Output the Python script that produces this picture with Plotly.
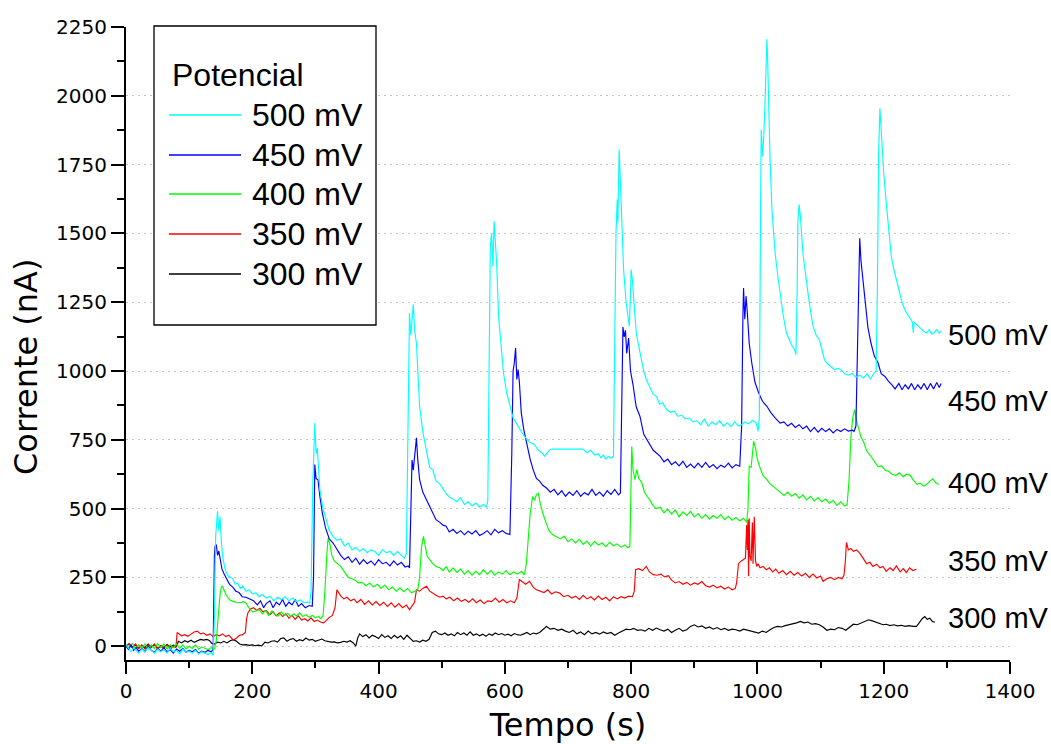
import plotly.graph_objects as go

# ---------------- data ----------------
potenciais = ["500 mV", "450 mV", "400 mV", "350 mV", "300 mV"]
cores = ["#00FFFF", "#0000FF", "#00FF00", "#FF0000", "#000000"]

serie_500 = [(0,5),(4,-10),(8,-20),(12,-5),(16,-15),(20,-25),(25,-10),(30,-20),(35,-5),(40,-15),(45,-25),(50,-10),(55,-20),(60,-12),(65,-25),(70,-8),(75,-20),(80,-15),(85,-28),(90,-10),(95,-22),(100,-18),(105,-25),(110,-15),(115,-28),(120,-20),(125,-25),(130,-30),(135,-22),(138,-33),
(140,100),(142,400),(144,460),(145,490),(147,420),(149,470),(151,380),(153,327),(156,290),(158,272),(162,255),(166,250),(169,245),(173,225),(177,230),(181,210),(185,218),(190,200),(195,205),(200,190),(206,194),(211,180),(216,188),(222,175),(228,182),(234,165),(240,178),(246,170),(252,180),(258,165),(264,175),(270,162),(276,168),(282,158),(288,160),(291,157),(293,200),(296,600),(299,811),(301,700),(303,720),(307,569),(312,500),(317,460),(322,420),(328,399),(334,385),(340,390),(346,365),(352,375),(358,350),(364,360),(370,345),(376,355),(382,340),(388,350),(394,345),(400,330),(406,350),(412,340),(418,345),(424,330),(430,345),(436,330),(441,320),(444,335),
(447,800),(449,1211),(451,1130),(453,1200),(455,1242),(457,1150),(460,1100),(463,960),(465,872),(470,780),(476,703),(481,650),(486,640),(491,600),(497,590),(502,570),(507,555),(513,540),(518,535),(524,525),(530,540),(536,515),(542,525),(548,510),(554,520),(560,505),(566,515),(571,505),(573,530),
(575,1000),(577,1453),(579,1500),(581,1381),(583,1544),(585,1484),(587,1393),(590,1200),(594,1080),(598,990),(603,920),(608,870),(613,830),(618,811),(624,790),(630,765),(636,750),(640,740),(646,735),(652,715),(658,705),(663,690),(668,705),(672,715),(676,716),(724,716),(730,703),(736,712),(742,695),(748,700),(752,685),(756,695),(760,680),(764,690),(768,683),(772,690),
(774,1100),(776,1502),(778,1623),(779,1540),(781,1805),(783,1647),(786,1500),(788,1370),(792,1250),(795,1199),(797,1163),(799,1280),(800,1369),(802,1330),(805,1220),(808,1140),(811,1102),(816,1040),(820,1000),(824,969),(830,940),(835,915),(840,908),(845,880),(850,885),(856,860),(862,850),(868,855),(874,835),(880,840),(886,825),(892,830),(898,815),(904,820),(910,805),(916,825),(922,800),(928,815),(934,805),(940,820),(946,800),(952,812),(958,798),(964,815),(970,800),(975,805),(980,815),(986,808),(992,820),(998,812),(1001,781),(1003,830),
(1005,1600),(1006,1877),(1008,1780),(1010,1850),(1012,1974),(1014,2100),(1015,2205),(1016,2150),(1018,1900),(1020,1768),(1023,1587),(1028,1429),(1032,1350),(1036,1284),(1041,1200),(1046,1138),(1051,1110),(1055,1090),(1059,1078),(1061,1060),
(1063,1300),(1064,1540),(1066,1605),(1068,1563),(1072,1429),(1076,1350),(1080,1284),(1084,1220),(1088,1163),(1093,1130),(1098,1114),(1102,1080),(1106,1042),(1110,1029),(1116,1016),(1122,1005),(1128,1010),(1133,1003),(1138,990),(1144,985),(1150,992),(1156,977),(1162,985),(1168,975),(1174,990),(1179,970),(1184,990),(1188,1000),
(1190,1300),(1192,1800),(1194,1955),(1196,1870),(1200,1720),(1204,1611),(1208,1500),(1212,1417),(1216,1370),(1221,1327),(1225,1290),(1229,1249),(1235,1215),(1240,1197),(1245,1180),(1247,1139),(1248,1178),(1251,1171),(1256,1160),(1263,1145),(1268,1138),(1272,1150),(1276,1135),(1280,1140),(1284,1150),(1288,1138),(1291,1145)]

serie_450 = [(0,0),(4,-12),(8,5),(12,-15),(16,-5),(20,-18),(25,-8),(30,-20),(35,0),(40,-15),(45,-22),(50,-8),(55,-18),(60,-5),(65,-20),(70,-12),(75,-25),(80,-10),(85,-18),(90,-8),(95,-22),(100,-15),(105,-20),(110,-12),(115,-25),(120,-18),(125,-22),(130,-15),(135,-20),(138,-12),
(140,330),(141,363),(143,369),(145,330),(147,346),(149,320),(152,280),(156,260),(160,240),(164,225),(169,215),(174,200),(179,195),(184,180),(190,178),(196,170),(202,165),(208,150),(213,165),(218,140),(222,155),(228,165),(233,140),(238,160),(243,150),(248,170),(253,145),(258,160),(263,150),(268,170),(273,145),(278,155),(284,140),(290,148),(295,145),
(297,250),(299,660),(301,610),(304,605),(307,545),(311,484),(316,430),(322,390),(328,375),(334,350),(340,330),(346,315),(352,325),(358,305),(364,320),(370,298),(376,315),(382,300),(388,310),(394,295),(400,315),(406,300),(412,305),(418,292),(424,310),(430,295),(436,305),(442,288),(447,292),(449,284),
(451,500),(453,677),(455,640),(457,700),(460,757),(462,680),(465,605),(470,560),(476,530),(481,508),(486,480),(491,460),(497,450),(502,440),(507,436),(512,415),(518,425),(524,410),(530,420),(536,405),(542,418),(548,408),(554,420),(560,402),(566,410),(572,420),(578,405),(584,425),(590,412),(596,420),(602,410),(608,406),
(611,700),(613,1000),(615,1029),(617,1084),(619,969),(621,1005),(623,960),(626,848),(630,787),(635,730),(640,680),(645,640),(650,610),(655,600),(660,585),(666,575),(672,560),(678,570),(684,550),(690,565),(696,545),(702,560),(708,548),(714,565),(720,545),(726,558),(732,550),(738,570),(744,548),(750,560),(756,545),(762,565),(768,552),(774,570),(780,550),(783,557),
(785,800),(787,1160),(789,1124),(791,1148),(793,1064),(796,1120),(799,1000),(803,950),(808,870),(814,835),(820,770),(825,750),(830,730),(835,712),(840,702),(846,690),(852,670),(858,680),(864,660),(870,670),(876,655),(882,672),(888,650),(894,662),(900,648),(906,665),(912,650),(918,668),(924,650),(930,660),(936,645),(942,658),(948,650),(954,665),(960,648),(966,660),(972,654),
(975,800),(977,1200),(978,1302),(980,1188),(982,1272),(984,1212),(987,1100),(991,1030),(996,960),(1002,920),(1008,890),(1015,872),(1021,850),(1028,830),(1036,811),(1042,815),(1048,800),(1054,810),(1060,795),(1066,805),(1072,790),(1078,800),(1084,780),(1090,795),(1096,778),(1102,792),(1108,780),(1114,790),(1120,775),(1126,788),(1132,780),(1138,790),(1144,782),(1150,785),(1153,781),
(1156,800),(1158,1042),(1160,1250),(1162,1482),(1164,1400),(1166,1353),(1170,1250),(1175,1158),(1180,1100),(1185,1055),(1191,1030),(1196,990),(1202,980),(1207,964),(1213,950),(1218,935),(1224,955),(1229,932),(1234,950),(1239,935),(1244,955),(1249,932),(1254,950),(1259,935),(1264,955),(1269,932),(1274,955),(1279,935),(1284,958),(1288,940),(1291,955)]

serie_400 = [(0,5),(5,-5),(10,10),(15,-8),(20,5),(25,-5),(30,8),(35,-10),(40,5),(45,-8),(50,10),(55,-5),(60,8),(65,-10),(70,5),(75,-5),(80,8),(85,-8),(90,5),(95,-10),(100,0),(105,-8),(110,5),(115,-10),(120,-3),(125,-8),(130,-12),(135,-5),(140,-10),(143,20),
(146,120),(149,190),(151,215),(153,218),(156,200),(159,185),(164,169),(169,163),(175,160),(181,158),(186,162),(190,157),(196,135),(201,125),(206,128),(211,133),(216,118),(221,130),(226,112),(231,128),(236,115),(241,110),(246,125),(251,112),(256,120),(261,108),(266,118),(270,110),(275,121),(280,108),(285,115),(290,105),(295,112),(300,103),(305,108),(308,100),(312,110),
(315,200),(318,330),(320,393),(323,370),(326,330),(330,310),(335,300),(340,290),(346,270),(352,250),(358,245),(363,240),(368,230),(374,232),(380,220),(386,230),(392,215),(398,225),(404,210),(410,222),(416,205),(422,215),(428,200),(434,212),(440,198),(446,210),(452,194),(458,200),(462,205),
(465,250),(468,360),(471,399),(474,360),(477,327),(481,315),(486,300),(491,290),(497,285),(502,275),(507,290),(512,270),(518,285),(524,268),(530,280),(536,262),(542,275),(548,258),(554,272),(560,260),(566,278),(572,262),(578,275),(584,258),(590,270),(596,262),(602,275),(608,260),(614,270),(620,262),(626,272),(631,260),
(634,300),(637,388),(640,480),(644,544),(647,530),(650,551),(653,556),(656,520),(660,484),(665,450),(670,420),(676,405),(682,398),(688,390),(694,400),(700,380),(706,390),(712,375),(718,388),(724,370),(730,382),(736,365),(742,380),(748,368),(754,375),(760,362),(766,378),(772,365),(778,372),(784,360),(790,368),(795,358),(798,363),
(800,600),(801,726),(803,640),(806,605),(809,642),(812,610),(817,594),(821,560),(825,545),(830,530),(835,510),(840,500),(846,505),(852,485),(858,498),(864,480),(870,495),(876,470),(882,488),(888,475),(894,490),(900,470),(906,482),(912,465),(918,478),(924,462),(930,475),(936,465),(942,478),(948,460),(954,472),(960,458),(966,468),(972,455),(978,465),(983,450),
(985,500),(987,654),(990,650),(992,700),(994,745),(997,720),(1000,678),(1004,650),(1009,620),(1015,605),(1020,590),(1025,581),(1030,570),(1036,560),(1042,548),(1048,560),(1054,545),(1060,555),(1066,538),(1072,550),(1078,532),(1084,545),(1090,528),(1096,540),(1102,525),(1108,535),(1114,520),(1120,530),(1126,512),(1132,525),(1138,510),(1142,514),
(1145,600),(1148,757),(1151,830),(1154,860),(1157,820),(1160,796),(1164,760),(1168,744),(1173,710),(1179,692),(1185,672),(1191,653),(1197,655),(1202,640),(1208,635),(1213,625),(1219,621),(1225,630),(1231,615),(1236,625),(1242,621),(1248,600),(1253,588),(1258,592),(1263,582),(1268,588),(1273,600),(1278,608),(1282,595),(1287,588)]

serie_350 = [(0,0),(5,10),(10,-5),(15,8),(20,-8),(25,5),(30,-10),(35,5),(40,-5),(45,8),(50,-10),(55,0),(60,-8),(65,5),(70,-12),(75,0),(79,-5),
(81,50),(84,45),(88,38),(93,42),(98,36),(103,44),(108,52),(113,55),(118,45),(123,48),(128,40),(133,45),(138,35),(143,42),(148,38),(153,45),(158,35),(163,40),(167,28),(170,22),(175,30),(180,40),(185,42),(189,50),
(191,100),(193,121),(197,135),(202,140),(207,130),(212,138),(217,125),(222,130),(228,115),(233,125),(238,110),(243,121),(248,108),(253,118),(258,102),(263,112),(268,98),(273,110),(278,95),(283,100),(288,92),(293,103),(298,90),(303,95),(308,88),(313,85),(317,93),(322,105),(327,112),
(331,140),(334,205),(337,195),(341,180),(345,172),(350,178),(356,165),(361,172),(366,158),(372,170),(378,152),(384,165),(390,150),(396,162),(402,148),(408,160),(414,145),(420,158),(426,142),(432,155),(438,140),(444,150),(449,133),(453,145),(457,160),
(460,205),(465,200),(470,210),(476,218),(481,200),(486,192),(491,185),(497,178),(502,182),(507,172),(513,178),(519,165),(525,175),(531,163),(537,170),(543,160),(549,172),(555,158),(561,168),(567,155),(573,165),(579,162),(585,175),(591,160),(597,170),(603,158),(609,165),(615,158),(619,175),
(623,242),(628,232),(633,225),(639,236),(645,215),(650,205),(656,200),(662,195),(668,205),(674,190),(680,198),(687,193),(693,180),(700,185),(706,175),(712,182),(718,170),(724,185),(730,172),(736,180),(742,168),(748,182),(754,170),(760,178),(766,165),(772,180),(778,172),(784,180),(790,175),(796,182),(802,180),(805,200),
(807,278),(812,282),(818,275),(824,290),(829,270),(835,260),(841,258),(847,262),(853,252),(859,256),(864,240),(870,230),(876,235),(882,225),(888,232),(894,222),(900,230),(906,225),(912,235),(918,220),(924,215),(930,222),(936,212),(942,218),(948,208),(954,215),(960,205),(965,210),(967,230),
(970,300),(974,309),(978,315),(981,320),(983,440),(984,350),(985,460),(986,254),(987,465),(988,330),(990,310),(992,450),(993,300),(995,470),(997,310),(999,290),(1001,300),(1004,285),(1009,290),(1014,278),(1019,285),(1024,270),(1029,280),(1034,265),(1040,275),(1046,260),(1052,272),(1058,258),(1064,268),(1070,255),(1076,265),(1082,250),(1088,262),(1094,248),(1100,255),(1104,236),(1110,245),(1116,250),(1122,242),(1128,250),(1134,245),(1137,258),
(1139,300),(1141,377),(1144,350),(1148,355),(1152,345),(1157,350),(1162,338),(1167,320),(1173,300),(1178,305),(1183,290),(1189,298),(1194,285),(1199,290),(1204,272),(1210,285),(1215,275),(1220,292),(1226,270),(1231,282),(1236,268),(1241,285),(1246,275),(1252,280)]

serie_300 = [(0,0),(5,8),(10,-5),(15,5),(20,-8),(25,3),(30,-5),(35,8),(40,-3),(45,5),(50,-8),(55,2),(60,-5),(65,6),(70,-3),(75,4),(80,0),(83,18),(88,12),(93,20),(98,15),(103,22),(108,14),(113,20),(118,25),(123,22),(128,25),(132,21),(136,10),(140,8),(145,15),(150,12),(155,18),(160,12),(165,20),(170,24),(175,18),(180,8),(185,5),(190,6),(195,3),(200,5),(205,2),(210,4),(215,1),
(220,15),(225,12),(230,18),(235,20),(240,15),(245,28),(250,30),(255,18),(260,25),(265,28),(270,18),(275,24),(280,20),(285,30),(290,22),(295,25),(300,18),(305,22),(310,26),(315,20),(320,18),(325,15),(330,16),(335,12),(340,14),(345,18),(350,15),(355,20),(360,12),(364,0),
(367,30),(370,45),(375,35),(380,42),(385,30),(390,40),(395,35),(400,28),(405,42),(410,32),(415,38),(420,28),(425,40),(430,30),(435,38),(440,25),(445,40),(450,30),(455,18),(460,20),(465,15),(470,22),(475,18),(480,25),
(485,50),(490,55),(495,45),(500,42),(505,48),(510,40),(515,45),(520,38),(525,50),(530,42),(535,48),(540,40),(545,52),(550,40),(555,45),(560,38),(565,44),(570,36),(575,45),(580,40),(585,48),(590,42),(595,46),(600,40),(605,44),(610,38),(615,46),(620,42),(625,40),(630,45),(635,50),(640,42),(645,48),(650,45),(655,50),(660,60),(666,72),(672,62),(678,65),(684,58),(690,62),(696,55),(702,50),(708,58),(714,45),(720,52),(726,42),(732,55),(738,45),(744,50),(750,44),(756,52),(762,46),(768,50),(774,40),(780,48),
(786,55),(792,62),(798,60),(804,65),(810,58),(816,60),(822,55),(828,65),(834,58),(840,66),(846,60),(852,55),(858,62),(864,50),(870,58),(876,65),(882,55),(888,60),(894,72),(900,78),(906,70),(912,74),(918,65),(924,70),(930,62),(936,68),(942,60),(948,65),(954,58),(960,62),(966,60),(972,55),(978,62),(984,58),(990,54),(996,50),(1002,48),(1008,55),(1014,50),
(1020,60),(1026,68),(1032,72),(1038,70),(1044,75),(1050,78),(1056,82),(1062,85),(1068,90),(1074,85),(1080,88),(1086,80),(1092,82),(1098,78),(1104,70),(1110,58),(1116,62),(1122,60),(1128,68),(1134,65),(1140,58),(1146,70),(1152,80),(1158,78),(1164,85),(1170,90),(1176,96),(1182,92),(1188,88),(1194,82),(1199,78),(1204,80),(1210,75),(1216,78),(1222,74),(1228,76),(1234,72),(1240,75),(1246,72),(1252,72),(1256,85),(1261,100),(1265,108),(1269,98),(1273,102),(1277,90),(1281,87)]

series = [serie_500, serie_450, serie_400, serie_350, serie_300]

x_ticks = [0, 200, 400, 600, 800, 1000, 1200, 1400]
y_ticks = [0, 250, 500, 750, 1000, 1250, 1500, 1750, 2000, 2250]

# ---------------- layout helpers (pixel -> paper) ----------------
W, H = 1051, 744
L, R, T, B = 126, 41, 27, 84
def xp(px):
    return (px - L) / (W - L - R)
def yp(py):
    return (H - B - py) / (H - T - B)

fig = go.Figure()
# draw 300 mV first so 500 mV ends on top
for nome, cor, pts in reversed(list(zip(potenciais, cores, series))):
    fig.add_trace(go.Scatter(
        x=[p[0] for p in pts], y=[p[1] for p in pts],
        mode="lines", name=nome, line=dict(color=cor, width=1.15),
        showlegend=False, hoverinfo="skip"))

tickfont = dict(family="DejaVu Sans", size=20, color="black")
fig.update_xaxes(
    range=[0, 1400], tickvals=x_ticks, ticktext=[str(v) for v in x_ticks],
    ticks="outside", ticklen=12, tickwidth=2, tickcolor="black",
    showline=True, linewidth=2, linecolor="black", mirror=False,
    showgrid=False, zeroline=False, tickfont=tickfont,
    minor=dict(dtick=100, tick0=0, ticks="outside", ticklen=6, tickwidth=2,
               tickcolor="black", showgrid=False),
    title=dict(text="Tempo (s)", font=dict(family="DejaVu Sans", size=32, color="black"),
               standoff=14))
fig.update_yaxes(
    range=[-50, 2250], tickvals=y_ticks, ticktext=[str(v) for v in y_ticks],
    ticks="outside", ticklen=13, tickwidth=2, tickcolor="black",
    showline=True, linewidth=2, linecolor="black",
    showgrid=True, gridcolor="#c4c4c4", gridwidth=1, griddash="2px,4px",
    zeroline=False, tickfont=tickfont,
    minor=dict(dtick=125, tick0=0, ticks="outside", ticklen=7, tickwidth=2,
               tickcolor="black", showgrid=False))

anns = []
shapes = []
# y-axis title
anns.append(dict(text="Corrente (nA)", textangle=-90, xref="paper", yref="paper",
                 x=xp(26), y=yp(367), xanchor="center", yanchor="middle",
                 showarrow=False, font=dict(family="DejaVu Sans", size=32, color="black")))
# legend box
shapes.append(dict(type="rect", xref="paper", yref="paper", x0=xp(154), x1=xp(376),
                   y0=yp(325), y1=yp(26), line=dict(color="black", width=1.3),
                   fillcolor="white", layer="above"))
legfont = dict(family="Liberation Sans", size=32, color="black")
anns.append(dict(text="Potencial", xref="paper", yref="paper", x=xp(170), y=yp(75),
                 xanchor="left", yanchor="middle", showarrow=False, font=legfont))
leg_rows = [115, 155, 194, 234, 274]
for nome, cor, py in zip(potenciais, cores, leg_rows):
    shapes.append(dict(type="line", xref="paper", yref="paper", x0=xp(169), x1=xp(241),
                       y0=yp(py), y1=yp(py), line=dict(color=cor, width=1.3), layer="above"))
    anns.append(dict(text=nome, xref="paper", yref="paper", x=xp(250), y=yp(py),
                     xanchor="left", yanchor="middle", showarrow=False, font=legfont))
# labels at the right end of each curve
right_rows = [335, 401, 483, 561, 618]
for nome, py in zip(potenciais, right_rows):
    anns.append(dict(text=nome, xref="paper", yref="paper", x=xp(946), y=yp(py),
                     xanchor="left", yanchor="middle", showarrow=False,
                     font=dict(family="Liberation Sans", size=29, color="black")))

fig.update_layout(
    width=W, height=H, margin=dict(l=L, r=R, t=T, b=B, autoexpand=False),
    paper_bgcolor="white", plot_bgcolor="white",
    annotations=anns, shapes=shapes, showlegend=False)

fig.write_html("out.html")
